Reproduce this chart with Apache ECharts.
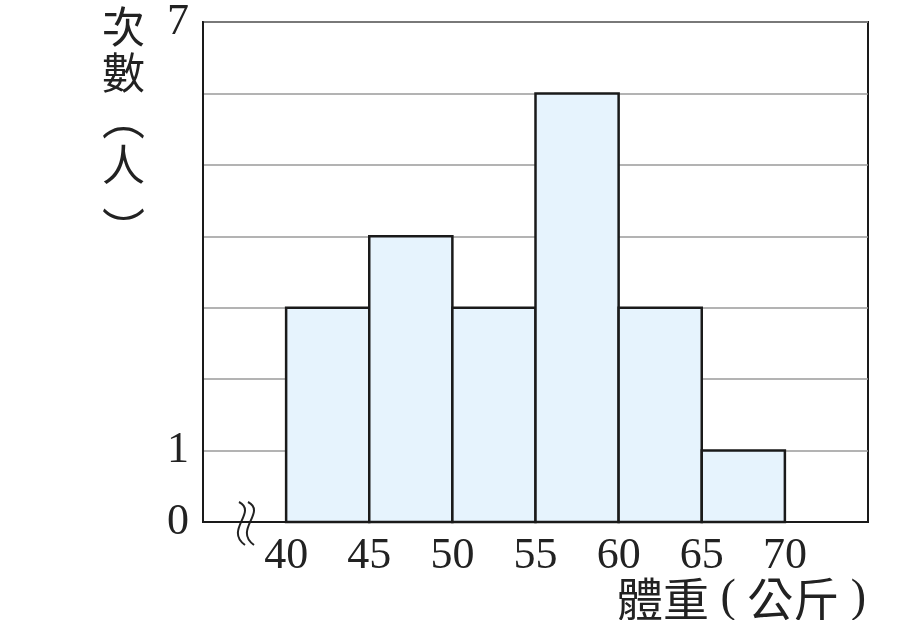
<!DOCTYPE html>
<html>
<head>
<meta charset="utf-8">
<script src="https://cdn.jsdelivr.net/npm/echarts@6/dist/echarts.min.js"></script>
<style>
  html, body { margin: 0; padding: 0; background: #fff; }
  #main { width: 920px; height: 620px; }
</style>
</head>
<body>
<div id="main"></div>
<script>
// 組距起點、組寬與次數
var binStart = [40, 45, 50, 55, 60, 65]
var binWidth = 5
var counts = [3, 4, 3, 6, 3, 1]
// 顯示的刻度
var xTicks = [40, 45, 50, 55, 60, 65, 70]
var yTicks = [0, 1, 7]

var serif = '"Liberation Serif", "DejaVu Serif", serif'
var cjk = '"Noto Sans CJK TC", "Noto Sans CJK SC", sans-serif'

var data = binStart.map(function (s, i) {
  return [s, s + binWidth, counts[i]]
})

// 折線符號
function squiggle(x, y) {
  return {
    type: 'bezierCurve',
    shape: { x1: x, y1: y, cpx1: x + 19, cpy1: y + 10, cpx2: x - 15, cpy2: y + 28, x2: x + 6, y2: y + 43 },
    style: { fill: 'none', stroke: '#222', lineWidth: 2 }
  }
}

function yName(text, top) {
  return {
    type: 'text', left: 102, top: top,
    style: { text: text, fontFamily: cjk, fontSize: 43, lineHeight: 46, fill: '#222' }
  }
}

var chart = echarts.init(document.getElementById('main'))

chart.setOption({
  backgroundColor: '#fff',
  animation: false,
  grid: {
    left: 203, top: 22, width: 665, height: 500,
    show: true, borderColor: '#1a1a1a', borderWidth: 2,
    containLabel: false
  },
  xAxis: {
    type: 'value',
    min: 35, max: 75, interval: 5,
    axisLine: { show: true, lineStyle: { color: '#1a1a1a', width: 2 } },
    axisTick: { show: false },
    splitLine: { show: false },
    axisLabel: {
      margin: 12,
      fontFamily: serif, fontSize: 44, color: '#222',
      formatter: function (v) { return xTicks.indexOf(v) >= 0 ? String(v) : '' }
    }
  },
  yAxis: {
    type: 'value',
    min: 0, max: 7, interval: 1,
    axisLine: { show: true, lineStyle: { color: '#1a1a1a', width: 2 } },
    axisTick: { show: false },
    splitLine: { show: true, lineStyle: { color: '#9a9a9a', width: 1.5 } },
    axisLabel: {
      margin: 14,
      fontFamily: serif, fontSize: 44, color: '#222',
      formatter: function (v) { return yTicks.indexOf(v) >= 0 ? String(v) : '' }
    }
  },
  series: [{
    type: 'custom',
    data: data,
    encode: { x: [0, 1], y: 2 },
    renderItem: function (params, api) {
      var p0 = api.coord([api.value(0), api.value(2)])
      var p1 = api.coord([api.value(1), 0])
      return {
        type: 'rect',
        shape: { x: p0[0], y: p0[1], width: p1[0] - p0[0], height: p1[1] - p0[1] },
        style: { fill: '#e6f3fd', stroke: '#1a1a1a', lineWidth: 2.5 }
      }
    }
  }],
  graphic: [
    yName('次\n數\n︵\n人', 4),
    yName('︶', 206),
    {
      type: 'text', left: 617, top: 576,
      style: {
        text: '{c|體重}{p| ( }{c|公斤}{p| )}',
        rich: {
          c: { fontFamily: cjk, fontSize: 46, fill: '#222' },
          p: { fontFamily: serif, fontSize: 46, fill: '#222' }
        }
      }
    },
    squiggle(239, 502),
    squiggle(248, 502)
  ]
})
</script>
</body>
</html>
